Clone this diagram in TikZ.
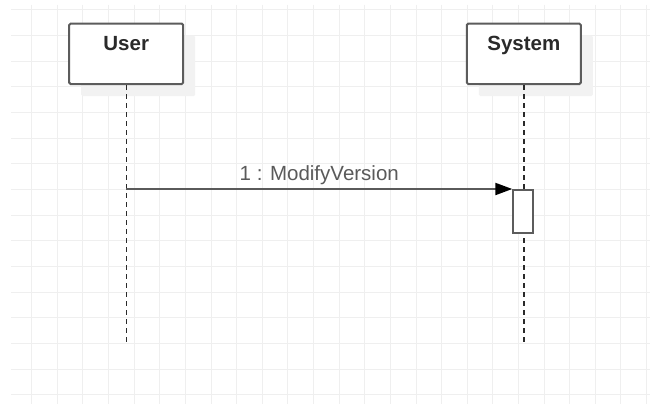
\documentclass[tikz,border=0pt]{standalone}
\usepackage{fontspec}
\setmainfont{Liberation Sans}
\usetikzlibrary{arrows.meta,positioning,shadows}
\definecolor{gridgray}{HTML}{EFEFEF}
\definecolor{shadowgray}{HTML}{F2F2F2}
\definecolor{boxline}{HTML}{5C5C5C}
\definecolor{namegray}{HTML}{2A2A2A}
\definecolor{msggray}{HTML}{5A5A5A}

\begin{document}
\begin{tikzpicture}[x=1pt,y=-1pt,
		actor/.style={draw=boxline,line width=2pt,rounded corners=1.5pt,fill=white,minimum width=114pt,minimum height=60.5pt,inner sep=0pt,
			drop shadow={shadow xshift=12pt,shadow yshift=-12pt,fill=shadowgray,opacity=1}},
		actorname/.style={font=\fontsize{20.5}{24}\selectfont\bfseries,text=namegray,anchor=base,inner sep=0pt},
		lifeline/.style={draw=namegray,line width=1.4pt,dash pattern=on 5pt off 4pt},
		activation/.style={draw=boxline,line width=2pt,fill=white,minimum width=20pt,minimum height=43pt,inner sep=0pt},
		message/.style={draw=msggray,line width=2pt,-{Triangle[length=17pt,width=12pt,black]}},
		msglabel/.style={font=\fontsize{20.5}{24}\selectfont,text=msggray,anchor=base,inner sep=0pt}]
	\useasboundingbox[fill=white] (0,0) rectangle (650,404);
	\foreach \k in {0,...,24}
		\draw[gridgray,line width=1pt] (31.7+25.62*\k,5) -- (31.7+25.62*\k,404);
	\foreach \k in {0,...,15}
		\draw[gridgray,line width=1pt] (11,10+25.65*\k) -- (650,10+25.65*\k);

	\node[actor] (user) at (126.2,53.8) {};
	\node[actor] (system) at (523.8,53.8) {};
	\path (user.north) ++(0,27.5) node[actorname] (user name) {User};
	\path (system.north) ++(0,27.5) node[actorname] (system name) {System};

	\coordinate (end) at (0,342);
	\draw[lifeline] (user.south) -- (user.south |- end);
	\draw[lifeline] (system.south) -- (system.south |- end);

	\node[activation] (act) at (523.3,211.5) {};
	\coordinate (start) at (user.south |- act.north);
	\draw[message] (start) -- node[msglabel,yshift=8.5pt] (msg) {1 : ModifyVersion} (act.north west);
\end{tikzpicture}
\end{document}
